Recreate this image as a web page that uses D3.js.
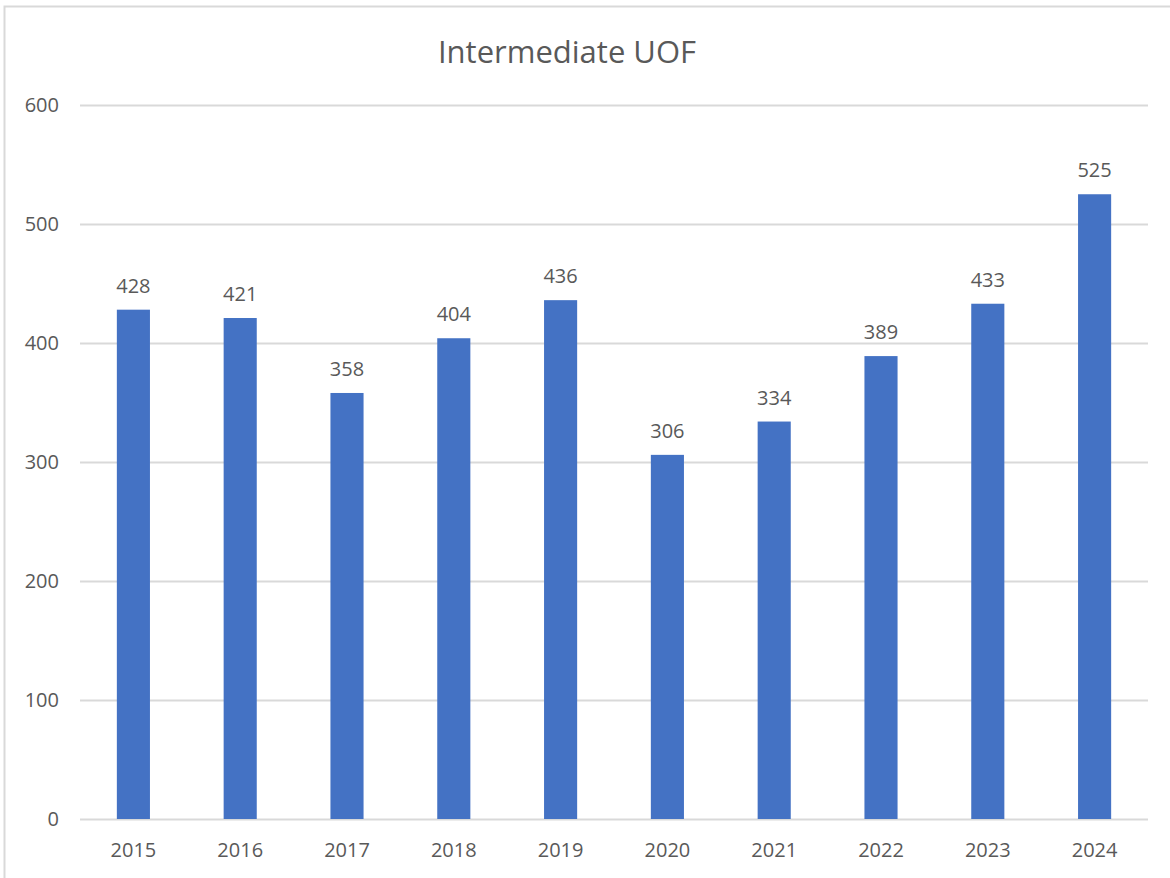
<!DOCTYPE html>
<html>
<head>
<meta charset="utf-8">
<script src="https://cdn.jsdelivr.net/npm/d3@7"></script>
<style>
  body { margin: 0; background: #fff; }
  text { font-family: "Open Sans", sans-serif; fill: #595959; }
</style>
</head>
<body>
<div id="chart"></div>
<script>
// chart values
var years = ["2015", "2016", "2017", "2018", "2019", "2020", "2021", "2022", "2023", "2024"];
var counts = [428, 421, 358, 404, 436, 306, 334, 389, 433, 525];
var yTicks = [0, 100, 200, 300, 400, 500, 600];

var W = 1170, H = 878;
var margin = { top: 105, right: 22, bottom: 59, left: 80 },
  width = W - margin.left - margin.right,
  height = H - margin.top - margin.bottom;

var svg = d3.select("#chart")
  .append("svg")
  .attr("width", W)
  .attr("height", H);

// chart area border
svg.append("rect")
  .attr("x", 4.5).attr("y", 6.5)
  .attr("width", W + 10).attr("height", H + 10)
  .attr("fill", "none")
  .attr("stroke", "#d9d9d9")
  .attr("stroke-width", 2);

svg.append("text")
  .attr("x", 567).attr("y", 63)
  .attr("text-anchor", "middle")
  .style("font-size", "31px")
  .text("Intermediate UOF");

var g = svg.append("g")
  .attr("transform", "translate(" + margin.left + "," + margin.top + ")");

var x = d3.scaleBand()
  .domain(years)
  .range([0, width])
  .paddingInner(0.69)
  .paddingOuter(0.345);

var y = d3.scaleLinear()
  .domain([0, 600])
  .range([height, 0]);

// gridlines + y labels
var yAxis = g.append("g")
  .call(d3.axisLeft(y).tickValues(yTicks).tickSize(-width).tickPadding(21));
yAxis.select(".domain").remove();
yAxis.selectAll(".tick line").attr("stroke", "#d9d9d9").attr("stroke-width", 2);
yAxis.selectAll(".tick text")
  .style("font-size", "20px")
  .attr("font-family", null);

// bars
g.selectAll("rect.bar")
  .data(counts)
  .enter().append("rect")
  .attr("class", "bar")
  .attr("x", function (d, i) { return x(years[i]); })
  .attr("y", function (d) { return y(d); })
  .attr("width", x.bandwidth())
  .attr("height", function (d) { return y(0) - y(d); })
  .attr("fill", "#4472c4");

// value labels
g.selectAll("text.val")
  .data(counts)
  .enter().append("text")
  .attr("class", "val")
  .attr("x", function (d, i) { return x(years[i]) + x.bandwidth() / 2; })
  .attr("y", function (d) { return y(d) - 17; })
  .attr("text-anchor", "middle")
  .style("font-size", "20px")
  .text(function (d) { return d; });

// x labels
var xAxis = g.append("g")
  .attr("transform", "translate(0," + height + ")")
  .call(d3.axisBottom(x).tickSize(0).tickPadding(24));
xAxis.select(".domain").remove();
xAxis.selectAll(".tick text")
  .style("font-size", "20px")
  .attr("font-family", null);
</script>
</body>
</html>
